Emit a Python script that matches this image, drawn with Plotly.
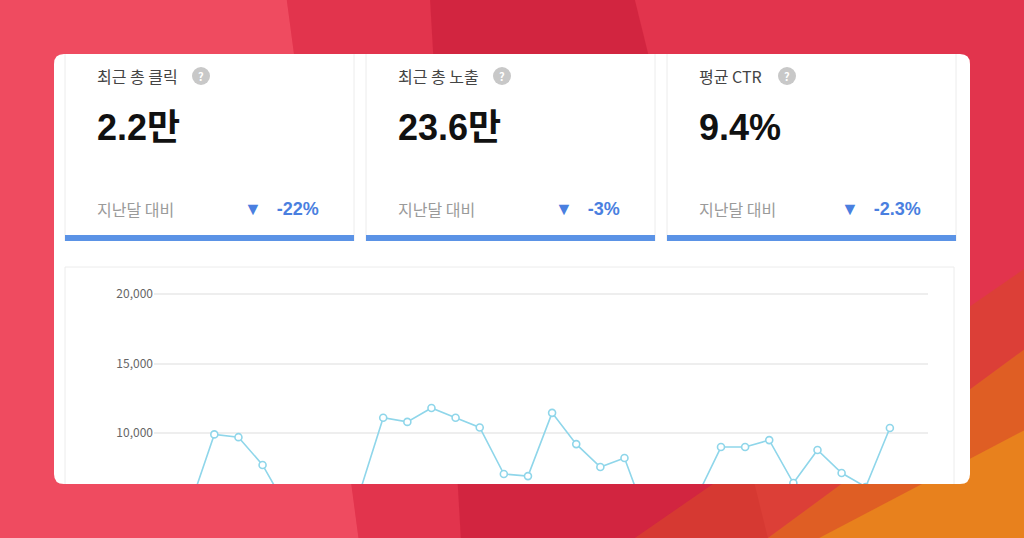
import plotly.graph_objects as go

# daily clicks (low ones are cut off below the card)
days = list(range(31))
clicks = [4500, 4800, 9900, 9700, 7700, 4650, 4200, 4600, 5600, 11100,
          10800, 11800, 11100, 10400, 7050, 6900, 11450, 9200, 7550, 8200,
          3500, 4000, 5400, 8990, 8990, 9490, 6400, 8780, 7120, 6120, 10360]

kpi_titles = ["최근 총 클릭", "최근 총 노출", "평균 CTR"]
kpi_values = ["2.2만", "23.6만", "9.4%"]
kpi_changes = ["-22%", "-3%", "-2.3%"]
tick_vals = [10000, 15000, 20000]
tick_text = ["10,000", "15,000", "20,000"]

W, H = 1024, 538
FONT = "Noto Sans CJK KR"
BLUE = "#4a7fe0"

def px(x):
    return x / W

def py(y):
    return 1 - y / H

fig = go.Figure()
fig.add_trace(go.Scatter(
    x=days, y=clicks, mode="lines+markers",
    line=dict(color="#8fd6ea", width=1.6),
    marker=dict(size=7, color="white", line=dict(color="#8fd6ea", width=1.6)),
    hoverinfo="skip"))

shapes = []
# background gradient-ish
shapes.append(dict(type="rect", xref="paper", yref="paper", x0=0, x1=1, y0=0, y1=1,
                   fillcolor="#e2344d", line_width=0, layer="below"))
shapes.append(dict(type="path", xref="paper", yref="paper",
                   path="M 0 0 L 0.35 0 L 0.28 1 L 0 1 Z",
                   fillcolor="#f25165", line_width=0, opacity=0.8, layer="below"))
shapes.append(dict(type="path", xref="paper", yref="paper",
                   path="M 0.45 0 L 0.75 0 L 0.62 1 L 0.42 1 Z",
                   fillcolor="#cc1f3a", line_width=0, opacity=0.7, layer="below"))
shapes.append(dict(type="path", xref="paper", yref="paper",
                   path="M 0.75 0 L 1 0 L 1 0.35 Z",
                   fillcolor="#e98a18", line_width=0, opacity=0.9, layer="below"))
shapes.append(dict(type="path", xref="paper", yref="paper",
                   path="M 0.62 0 L 0.8 0 L 1 0.2 L 1 0.5 Z",
                   fillcolor="#d9482a", line_width=0, opacity=0.6, layer="below"))
# white card with rounded corners
x0, x1, y0, y1, r = 54, 970, 54, 484, 10
path = (f"M {px(x0+r)} {py(y0)} L {px(x1-r)} {py(y0)} Q {px(x1)} {py(y0)} {px(x1)} {py(y0+r)} "
        f"L {px(x1)} {py(y1-r)} Q {px(x1)} {py(y1)} {px(x1-r)} {py(y1)} "
        f"L {px(x0+r)} {py(y1)} Q {px(x0)} {py(y1)} {px(x0)} {py(y1-r)} "
        f"L {px(x0)} {py(y0+r)} Q {px(x0)} {py(y0)} {px(x0+r)} {py(y0)} Z")
shapes.append(dict(type="path", xref="paper", yref="paper", path=path,
                   fillcolor="white", line_width=0, layer="below"))

annotations = []

def note(x, y, text, size, color, xanchor="left", family=FONT):
    annotations.append(dict(x=px(x), y=py(y), xref="paper", yref="paper", text=text,
                            showarrow=False, xanchor=xanchor, yanchor="middle",
                            font=dict(family=family, size=size, color=color)))

for i in range(3):
    cx = 65 + 301 * i
    # card border + blue bottom bar
    shapes.append(dict(type="path", xref="paper", yref="paper",
                       path=f"M {px(cx)} {py(241)} L {px(cx)} {py(54)} M {px(cx+289)} {py(54)} L {px(cx+289)} {py(241)}",
                       line=dict(color="#ececec", width=1), layer="below"))
    shapes.append(dict(type="rect", xref="paper", yref="paper",
                       x0=px(cx), x1=px(cx + 289), y0=py(241), y1=py(235),
                       line_width=0, fillcolor="#5b93e6"))
    tx = cx + 30
    note(tx, 76, kpi_titles[i], 16, "#444")
    qx = tx + [106, 106, 90][i]
    shapes.append(dict(type="circle", xref="paper", yref="paper",
                       x0=px(qx - 9), x1=px(qx + 9), y0=py(85), y1=py(67),
                       fillcolor="#c8c8c8", line_width=0))
    note(qx, 76, "<b>?</b>", 11, "white", "center")
    note(tx, 127, "<b>" + kpi_values[i] + "</b>", 36, "#111", family="Liberation Sans, " + FONT)
    note(tx, 209, "지난달 대비", 16, "#9a9a9a")
    note(cx + 256, 209, "▼&nbsp;&nbsp;&nbsp;<b>" + kpi_changes[i] + "</b>", 18, BLUE, "right",
         family="Liberation Sans, " + FONT)

# chart box (bottom is cut by the card edge)
shapes.append(dict(type="path", xref="paper", yref="paper",
                   path=f"M {px(65)} {py(484)} L {px(65)} {py(267)} L {px(954)} {py(267)} L {px(954)} {py(484)}",
                   line=dict(color="#ececec", width=1), layer="below"))

fig.update_layout(
    width=W, height=H, margin=dict(l=0, r=0, t=0, b=0),
    paper_bgcolor="#e2344d", plot_bgcolor="rgba(0,0,0,0)",
    showlegend=False, shapes=shapes, annotations=annotations,
    xaxis=dict(domain=[px(154), px(928)], range=[-0.5, 31.58], visible=False, fixedrange=True),
    yaxis=dict(domain=[py(484), py(270)], range=[6331, 21727],
               tickvals=tick_vals, ticktext=tick_text, showgrid=True, gridcolor="#eeeeee",
               gridwidth=1.5, zeroline=False, showline=False, ticks="",
               tickfont=dict(family=FONT, size=12, color="#666")),
)
fig.write_html("out.html", config={"displayModeBar": False},
               post_script="document.body.style.margin='0';")
